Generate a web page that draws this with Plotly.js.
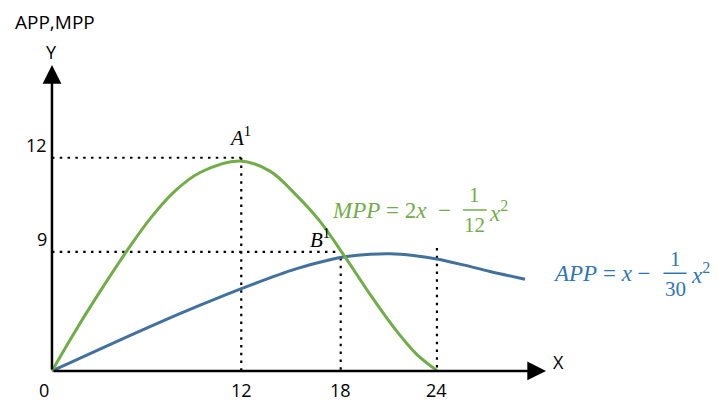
<!DOCTYPE html>
<html>
<head>
<meta charset="utf-8">
<script src="https://cdn.plot.ly/plotly-3.0.1.min.js"></script>
<style>
  body { margin: 0; background: #fff; }
  #chart { width: 718px; height: 401px; }
</style>
</head>
<body>
<div id="chart"></div>
<script>
// values (the drawing is schematic, so the 9 level sits at 6.7 on the scale)
var mppX = [0, 1.31, 2.81, 4.68, 6.11, 7.56, 9.23, 11.72, 13.59, 15.26, 16.71, 18.27, 19.83, 21.49, 22.74, 24]
var mppY = [0, 2.03, 4.21, 6.77, 8.56, 10.04, 11.17, 11.82, 11.25, 9.87, 8.42, 6.42, 4.31, 2.24, 0.93, 0.02]

var appX = [0, 6.11, 9.2, 12.34, 15.26, 17.33, 18.37, 19.83, 21.07, 22.53, 23.98, 25.64, 27.31, 29.49]
var appY = [0, 2.5, 3.69, 4.82, 5.76, 6.26, 6.44, 6.57, 6.6, 6.5, 6.3, 5.97, 5.6, 5.16]

var dropX = [11.8, 18, 24]
var dropTop = [12, 6.36, 6.92]
var dropLabels = ["12", "18", "24"]

var levelY = [12, 6.7]
var levelEnd = [11.8, 18]
var levelLabels = ["12", "9"]

var green = "#70AD47"
var blue = "#41719C"
var blueText = "#2E75B6"
var dots = "2.5px,5.3px"

var traces = []

for (let i = 0; i < levelY.length; i++) {
    traces.push({
        x: [0, levelEnd[i]], y: [levelY[i], levelY[i]],
        mode: "lines", line: {color: "black", width: 2.2, dash: dots},
        hoverinfo: "skip", showlegend: false
    })
}
for (let i = 0; i < dropX.length; i++) {
    traces.push({
        x: [dropX[i], dropX[i]], y: [dropTop[i], 0],
        mode: "lines", line: {color: "black", width: 2.2, dash: dots},
        hoverinfo: "skip", showlegend: false
    })
}

traces.push({
    x: appX, y: appY, mode: "lines",
    line: {color: blue, width: 3, shape: "spline", smoothing: 1},
    showlegend: false
})
traces.push({
    x: mppX, y: mppY, mode: "lines",
    line: {color: green, width: 3, shape: "spline", smoothing: 1},
    showlegend: false
})

var sans = "Open Sans"
var serif = "Liberation Serif"
var ann = []

function txt(x, y, text, opts) {
    let a = {x: x, y: y, text: text, showarrow: false, xref: "x", yref: "y",
        font: {family: sans, size: 18, color: "black"}}
    Object.assign(a, opts || {})
    ann.push(a)
}

// axis arrows
ann.push({x: 30.8, y: 0, ax: 0, ay: 0, axref: "x", ayref: "y", xref: "x", yref: "y",
    text: "", showarrow: true, arrowhead: 2, arrowsize: 1.5, arrowwidth: 2.5, arrowcolor: "black"})
ann.push({x: 0, y: 17.22, ax: 0, ay: 0, axref: "x", ayref: "y", xref: "x", yref: "y",
    text: "", showarrow: true, arrowhead: 2, arrowsize: 1.5, arrowwidth: 2.5, arrowcolor: "black"})

txt(-2.4, 19.64, "APP,MPP", {xanchor: "left", font: {family: sans, size: 19, color: "black"}})
txt(0, 17.95, "Y")
txt(31.55, 0.5, "X")

for (let i = 0; i < levelY.length; i++) {
    txt(-0.2, levelY[i], levelLabels[i], {xanchor: "right", yshift: 13})
}
txt(0, 0, "0", {xshift: -8, yshift: -19})
for (let i = 0; i < dropX.length; i++) {
    txt(dropX[i], 0, dropLabels[i], {yshift: -19})
}

txt(11.72, 13.17, "<i>A</i><sup>1</sup>", {font: {family: serif, size: 21, color: "black"}})
txt(16.7, 7.48, "<i>B</i><sup>1</sup>", {font: {family: serif, size: 21, color: "black"}})

// MPP formula
var gf = {family: serif, size: 23, color: green}
var gd = {family: serif, size: 21, color: green}
txt(25.0, 9.06, "<i>MPP</i> = 2<i>x</i>  \u2212", {xanchor: "right", font: gf})
txt(26.37, 9.9, "1", {font: gd})
txt(26.37, 8.2, "12", {font: gd})
txt(27.15, 9.0, "<i>x</i><sup>2</sup>", {xanchor: "left", font: gf})

// APP formula
var bf = {family: serif, size: 23, color: blueText}
var bd = {family: serif, size: 21, color: blueText}
txt(37.47, 5.46, "<i>APP</i> = <i>x</i> \u2212", {xanchor: "right", font: bf})
txt(38.84, 6.3, "1", {font: bd})
txt(38.84, 4.62, "30", {font: bd})
txt(39.7, 5.5, "<i>x</i><sup>2</sup>", {xanchor: "left", font: bf})

var shapes = [
    {type: "line", xref: "x", yref: "y", x0: 25.62, x1: 27.1, y0: 9.06, y1: 9.06, line: {color: green, width: 1.5}},
    {type: "line", xref: "x", yref: "y", x0: 38.12, x1: 39.56, y0: 5.5, y1: 5.5, line: {color: blueText, width: 1.5}}
]

var layout = {
    width: 718, height: 401,
    margin: {l: 0, r: 0, t: 0, b: 0},
    paper_bgcolor: "white", plot_bgcolor: "white",
    xaxis: {range: [-3.24, 41.52], visible: false, fixedrange: true},
    yaxis: {range: [-1.69, 20.88], visible: false, fixedrange: true},
    annotations: ann,
    shapes: shapes,
    showlegend: false
}

Plotly.newPlot("chart", traces, layout, {displayModeBar: false, staticPlot: true})
</script>
</body>
</html>
